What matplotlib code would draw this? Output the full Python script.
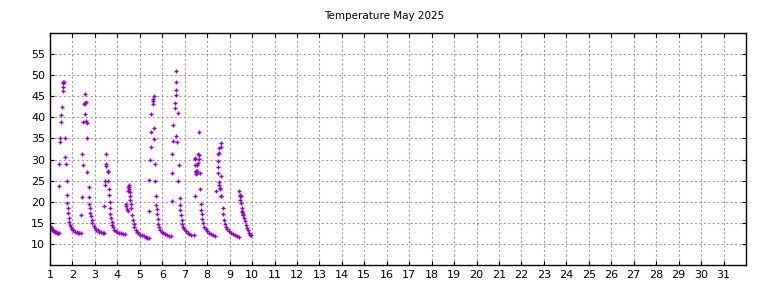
import matplotlib
matplotlib.use("Agg")
import matplotlib.pyplot as plt

title = "Temperature May 2025"
x_ticks = list(range(1, 32))
y_ticks = list(range(10, 60, 5))

# (day-of-month as fractional day, temperature)
times = [
    1.00, 1.03, 1.06, 1.09, 1.12, 1.15, 1.18, 1.22, 1.26, 1.30, 1.34, 1.38,
    1.40, 1.41, 1.45, 1.46, 1.50, 1.50, 1.53, 1.56, 1.58, 1.59, 1.58, 1.62, 1.68, 1.68, 1.71, 1.74, 1.77, 1.77,
    1.80, 1.82, 1.83, 1.86, 1.89, 1.92, 1.98, 2.04, 2.11, 2.19, 2.25, 2.30, 2.38,
    2.40, 2.44, 2.45, 2.44, 2.49, 2.55, 2.53, 2.55, 2.58, 2.61, 2.58, 2.61, 2.63, 2.67, 2.67, 2.72, 2.72, 2.75,
    2.78, 2.80, 2.82, 2.85, 2.88, 2.94, 3.00, 3.06, 3.12, 3.19, 3.27, 3.35, 3.40,
    3.42, 3.46, 3.46, 3.50, 3.51, 3.50, 3.59, 3.60, 3.60, 3.64, 3.64, 3.67, 3.69, 3.69,
    3.72, 3.75, 3.78, 3.82, 3.87, 3.93, 4.00, 4.08, 4.17, 4.26, 4.35,
    4.38, 4.40, 4.44, 4.46, 4.48, 4.49, 4.51, 4.53, 4.53, 4.55, 4.56, 4.58, 4.61, 4.63,
    4.66, 4.69, 4.72, 4.76, 4.81, 4.87, 4.94, 5.02, 5.10, 5.18, 5.26, 5.34, 5.42,
    5.43, 5.43, 5.47, 5.48, 5.50, 5.51, 5.57, 5.58, 5.61, 5.60, 5.64, 5.64, 5.69, 5.69, 5.72, 5.72, 5.75, 5.77,
    5.79, 5.82, 5.86, 5.92, 5.98, 6.05, 6.13, 6.22, 6.31, 6.40,
    6.43, 6.44, 6.44, 6.50, 6.50, 6.55, 6.55, 6.62, 6.60, 6.59, 6.59, 6.68, 6.62, 6.65, 6.74, 6.71, 6.77, 6.77,
    6.80, 6.83, 6.86, 6.89, 6.93, 6.98, 7.05, 7.13, 7.21, 7.30, 7.40,
    7.44, 7.44, 7.46, 7.47, 7.50, 7.51, 7.52, 7.53, 7.55, 7.55, 7.58, 7.59, 7.62, 7.62, 7.63, 7.67, 7.70, 7.71,
    7.73, 7.75, 7.78, 7.82, 7.87, 7.93, 8.00, 8.08, 8.17, 8.27, 8.37,
    8.41, 8.47, 8.47, 8.48, 8.53, 8.54, 8.60, 8.63, 8.50, 8.52, 8.53, 8.55, 8.61, 8.57, 8.60, 8.63, 8.69, 8.72,
    8.75, 8.79, 8.84, 8.90, 8.97, 9.05, 9.14, 9.23, 9.32, 9.40,
    9.44, 9.46, 9.47, 9.48, 9.50, 9.52, 9.55, 9.56, 9.57, 9.59, 9.61, 9.65, 9.67, 9.72, 9.77, 9.82, 9.87, 9.92, 9.96,
]
temps = [
    14.1, 13.9, 13.7, 13.5, 13.3, 13.1, 13.0, 12.9, 12.8, 12.7, 12.6, 12.6,
    23.8, 29.0, 34.1, 35.0, 38.8, 40.5, 42.4, 46.3, 47.3, 48.1, 48.5, 48.3, 35.1, 30.7, 29.0, 25.0, 21.7, 19.7,
    18.5, 17.3, 16.1, 15.3, 14.5, 14.0, 13.5, 13.2, 12.9, 12.8, 12.7, 12.7, 12.6,
    16.9, 31.4, 28.8, 21.2, 39.0, 40.7, 43.1, 43.3, 43.5, 43.6, 45.5, 39.1, 38.7, 35.1, 27.0, 23.4, 21.2, 19.4,
    18.5, 17.3, 16.5, 15.7, 15.0, 14.2, 13.7, 13.4, 13.2, 12.9, 12.8, 12.7, 12.7,
    19.1, 25.0, 24.0, 31.4, 29.0, 28.4, 27.4, 27.0, 25.0, 23.0, 21.7, 20.0, 18.4, 17.0,
    16.1, 15.2, 14.5, 13.9, 13.4, 13.1, 12.9, 12.7, 12.5, 12.4, 12.4,
    19.0, 19.4, 18.3, 17.9, 22.6, 23.5, 24.0, 23.6, 23.0, 22.3, 21.4, 20.4, 19.4, 18.5,
    16.8, 15.6, 14.7, 14.0, 13.4, 12.9, 12.6, 12.2, 12.0, 11.8, 11.6, 11.5, 11.4,
    17.9, 25.2, 30.0, 32.9, 36.5, 40.7, 43.1, 44.4, 45.1, 43.8, 37.4, 34.8, 29.0, 25.0, 21.4, 19.3, 18.2, 17.0,
    15.8, 14.7, 13.9, 13.3, 12.9, 12.6, 12.3, 12.1, 11.9, 11.8,
    20.1, 26.7, 31.4, 34.5, 38.1, 42.3, 43.3, 45.2, 46.4, 48.3, 51.0, 41.0, 35.5, 34.1, 28.6, 24.8, 21.0, 19.2,
    18.0, 16.9, 15.7, 14.8, 14.1, 13.5, 13.0, 12.7, 12.4, 12.2, 12.0,
    21.3, 28.8, 30.4, 30.2, 26.6, 27.0, 27.3, 26.8, 27.2, 28.8, 29.1, 31.3, 31.0, 36.6, 30.1, 26.8, 22.9, 19.4,
    18.1, 17.0, 15.9, 14.9, 14.1, 13.5, 13.0, 12.6, 12.3, 12.0, 11.8,
    22.6, 29.6, 28.2, 31.4, 31.5, 32.8, 34.0, 33.0, 26.7, 24.7, 23.9, 22.9, 26.0, 23.3, 21.4, 21.4, 18.5, 17.0,
    15.7, 14.7, 14.0, 13.5, 13.1, 12.7, 12.3, 12.0, 11.8, 11.6,
    22.6, 21.4, 21.6, 20.5, 21.3, 19.7, 18.5, 17.8, 17.5, 17.2, 16.9, 16.2, 15.4, 14.6, 13.8, 13.2, 12.7, 12.2, 12.0,
]

fig = plt.figure(figsize=(7.68, 2.88), dpi=100)
ax = fig.add_axes([50 / 768, 23 / 288, 696 / 768, 232 / 288])

ax.plot(times, temps, linestyle="none", marker="+", markersize=3.3,
        markeredgewidth=1.0, color="#9400d3")

ax.set_xlim(1, 32)
ax.set_ylim(5, 60)
ax.set_xticks(x_ticks)
ax.set_yticks(y_ticks)
ax.grid(True, color="#a0a0a0", linestyle=(0, (2, 2)), linewidth=0.8)
ax.set_axisbelow(True)
ax.tick_params(direction="in", top=True, right=True, length=3,
               labelsize=8, width=0.8)
for s in ax.spines.values():
    s.set_linewidth(1.0)

fig.text(0.5, 1 - 16 / 288, title, ha="center", va="center", fontsize=7.5)

fig.savefig("out.png", dpi=100)
